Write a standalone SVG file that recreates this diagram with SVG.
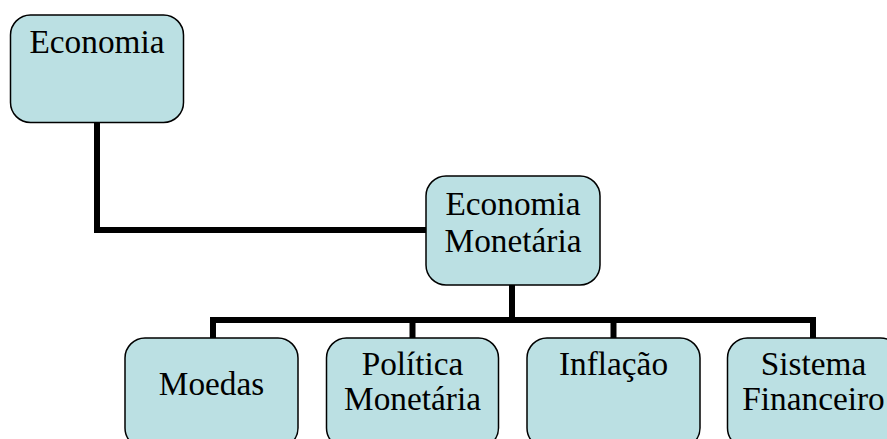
<svg xmlns="http://www.w3.org/2000/svg" width="887" height="439" viewBox="0 0 887 439">
<style>
.box{fill:#BBE0E3;stroke:#000;stroke-width:1.5}
.lbl{font-family:"Liberation Serif","Times New Roman",serif;font-size:33.3px;fill:#000;text-anchor:middle}
.con{fill:none;stroke:#000;stroke-width:6;stroke-linecap:square;stroke-linejoin:miter}
</style>
<rect width="887" height="439" fill="#fff"/>
<g id="connectors">
<path class="con" d="M97,123 V230 H426"/>
<path class="con" d="M512,286 V320"/>
<path class="con" d="M213,337 V320 H813 V337"/>
<path class="con" d="M412.5,320 V337"/>
<path class="con" d="M613.5,320 V337"/>
</g>
<g id="economia">
<rect class="box" x="10.5" y="15" width="173" height="107.5" rx="20"/>
<text class="lbl" x="97" y="53">Economia</text>
</g>
<g id="economia-monetaria">
<rect class="box" x="426" y="176" width="174" height="109" rx="20"/>
<text class="lbl" x="513" y="215">Economia</text>
<text class="lbl" x="513" y="252">Monetária</text>
</g>
<g id="moedas">
<rect class="box" x="125" y="338" width="173" height="110" rx="20"/>
<text class="lbl" x="211.5" y="395">Moedas</text>
</g>
<g id="politica-monetaria">
<rect class="box" x="326.5" y="338" width="172" height="110" rx="20"/>
<text class="lbl" x="412.5" y="375">Política</text>
<text class="lbl" x="412.5" y="410">Monetária</text>
</g>
<g id="inflacao">
<rect class="box" x="527" y="338" width="173" height="110" rx="20"/>
<text class="lbl" x="613.5" y="375">Inflação</text>
</g>
<g id="sistema-financeiro">
<rect class="box" x="727.5" y="338" width="173" height="110" rx="20"/>
<text class="lbl" x="813.5" y="375">Sistema</text>
<text class="lbl" x="813.5" y="410">Financeiro</text>
</g>
</svg>
